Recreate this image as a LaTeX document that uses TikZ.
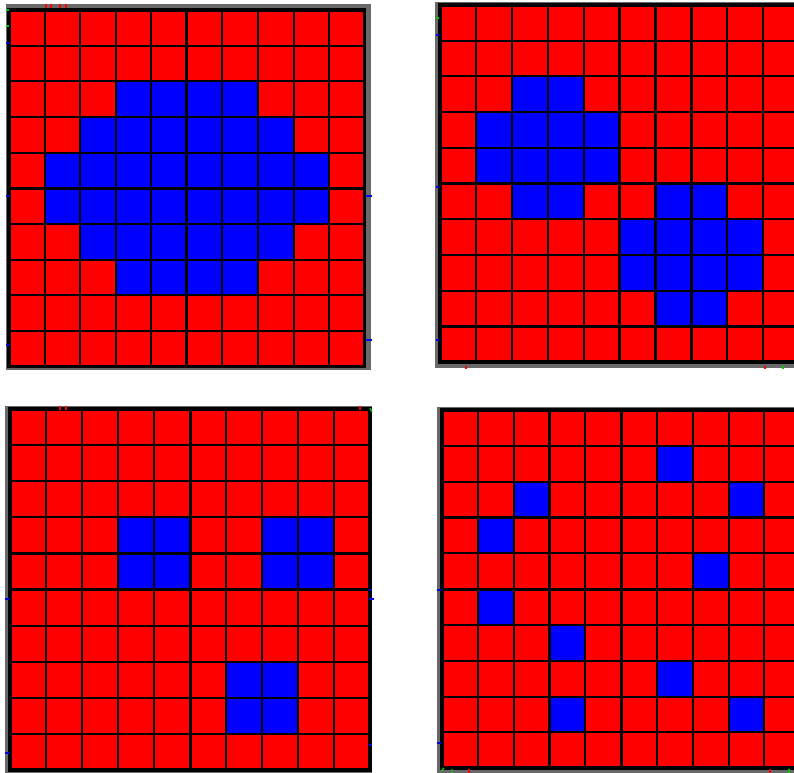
\documentclass[tikz,border=0pt]{standalone}
\definecolor{cellred}{RGB}{255,0,0}
\definecolor{cellblue}{RGB}{0,0,255}
\definecolor{framegray}{RGB}{105,105,105}
\definecolor{tickgreen}{RGB}{0,200,0}
\tikzset{
  gridline/.style={black, line width=0.6pt},
  midline/.style={black, line width=0.85pt},
  borderline/.style={black, line width=1pt},
  redcell/.style={fill=cellred},
  bluecell/.style={fill=cellblue},
  frame/.style={fill=framegray},
  tickb/.style={draw=cellblue, line width=0.4pt},
  tickg/.style={draw=tickgreen, line width=0.4pt},
  tickr/.style={draw=cellred, line width=0.4pt}
}
\newcommand\cellgrid{%
  \foreach \k in {1,...,9} {\draw[gridline] (\k,0) -- (\k,10) (0,\k) -- (10,\k);}
  \draw[midline] (5,0) -- (5,10) (0,5) -- (10,5);
  \draw[borderline] (0,0) rectangle (10,10);
}
\begin{document}
\begin{tikzpicture}[x=0.01cm, y=-0.01cm]
\clip (0,0) rectangle (794,773);
\fill[white] (0,0) rectangle (794,773);

% ---------- panel 1 (top left)
\fill[frame] (6,4) rectangle (371,370);
\begin{scope}[shift={(9,10)}, x=0.3555cm, y=-0.3565cm]
  \fill[redcell] (0,0) rectangle (10,10);
  \fill[bluecell] (3,2) rectangle (7,3) (2,3) rectangle (8,4) (1,4) rectangle (9,6)
                  (2,6) rectangle (8,7) (3,7) rectangle (7,8);
  \cellgrid
\end{scope}
\draw[tickr] (46,4) -- (46,8) (51,4) -- (51,8) (60,4) -- (60,8) (66,4) -- (66,8);
\draw[tickg] (6,10) -- (9,10) (6,26) -- (9,26);
\draw[tickb] (6,43) -- (9,43) (6,196) -- (9,196) (366,196) -- (372,196) (6,345) -- (9,345) (366,340) -- (372,340);

% ---------- panel 2 (top right)
\fill[frame] (435,2) rectangle (800,368);
\begin{scope}[shift={(440,5)}, x=0.3590cm, y=-0.3570cm]
  \fill[redcell] (0,0) rectangle (10,10);
  \fill[bluecell] (2,2) rectangle (4,3) (1,3) rectangle (5,5) (2,5) rectangle (4,6)
                  (6,5) rectangle (8,6) (5,6) rectangle (9,8) (6,8) rectangle (8,9);
  \cellgrid
\end{scope}
\draw[tickg] (436,18) -- (439,18);
\draw[tickb] (436,35) -- (439,35) (436,187) -- (439,187) (436,340) -- (439,340);
\draw[tickr] (466,366) -- (466,369) (765,366) -- (765,369);
\draw[tickg] (783,366) -- (783,369);

% ---------- panel 3 (bottom left)
\fill[frame] (5,406) rectangle (372,773);
\begin{scope}[shift={(10,409)}, x=0.3600cm, y=-0.3610cm]
  \fill[redcell] (0,0) rectangle (10,10);
  \fill[bluecell] (3,3) rectangle (5,5) (7,3) rectangle (9,5) (6,7) rectangle (8,9);
  \cellgrid
\end{scope}
\draw[tickr] (60,406) -- (60,410) (66,406) -- (66,410) (360,406) -- (360,410);
\draw[tickg] (370,408) -- (372,412);
\draw[tickb] (5,599) -- (9,599) (5,753) -- (9,753) (369,599) -- (374,599) (369,590) -- (372,590) (369,745) -- (372,745);

% ---------- panel 4 (bottom right)
\fill[frame] (437,407) rectangle (800,773);
\begin{scope}[shift={(442,410)}, x=0.3580cm, y=-0.3580cm]
  \fill[redcell] (0,0) rectangle (10,10);
  \fill[bluecell] (6,1) rectangle ++(1,1) (2,2) rectangle ++(1,1) (8,2) rectangle ++(1,1)
                  (1,3) rectangle ++(1,1) (7,4) rectangle ++(1,1) (1,5) rectangle ++(1,1)
                  (3,6) rectangle ++(1,1) (6,7) rectangle ++(1,1) (3,8) rectangle ++(1,1)
                  (8,8) rectangle ++(1,1);
  \cellgrid
\end{scope}
\draw[tickb] (437,743) -- (441,743) (437,590) -- (441,590);
\draw[tickg] (441,771) -- (444,768) (452,769) -- (452,773);
\draw[tickr] (469,769) -- (469,773) (770,769) -- (770,773);
\draw[tickg] (789,769) -- (789,773);
\end{tikzpicture}
\end{document}
